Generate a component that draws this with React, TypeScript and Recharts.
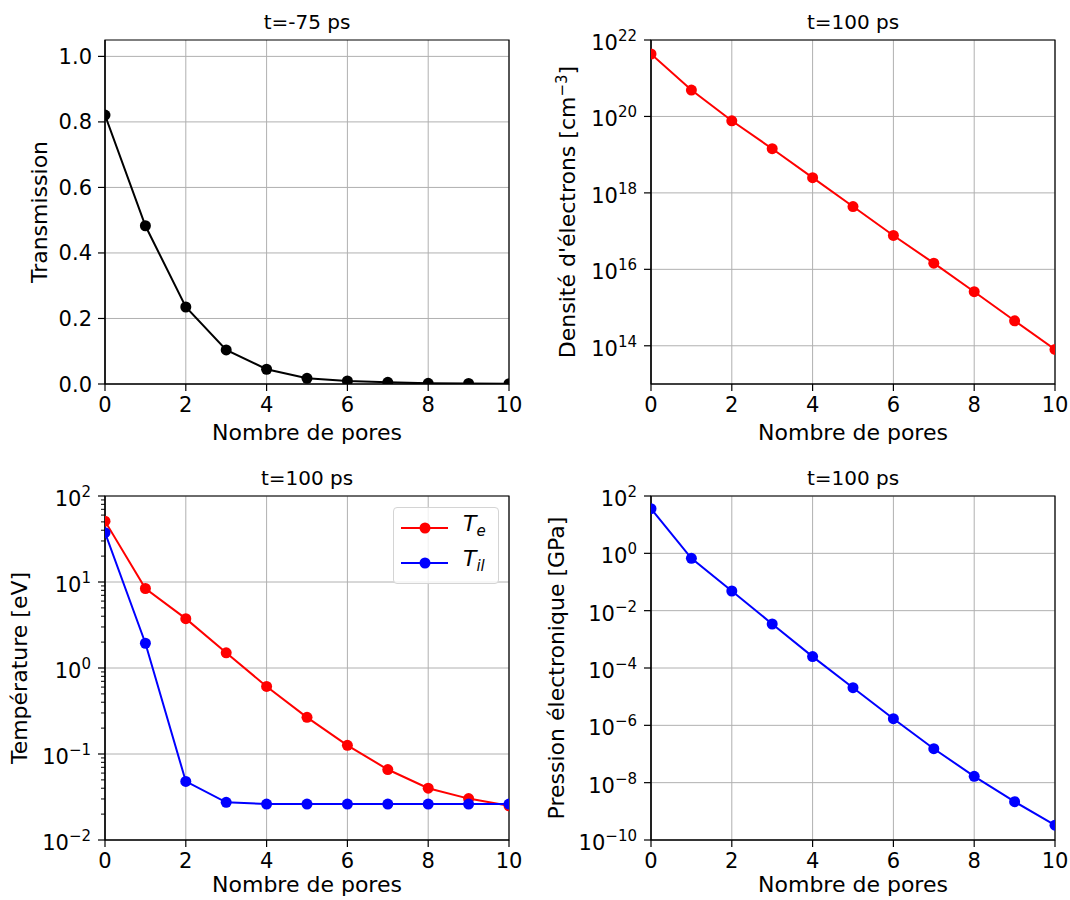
import React from 'react';
import {
  LineChart,
  Line,
  XAxis,
  YAxis,
  CartesianGrid,
  ReferenceArea,
  Legend,
  Customized,
} from 'recharts';

// values
const pores = [0, 1, 2, 3, 4, 5, 6, 7, 8, 9, 10];
const transmission = [0.821, 0.483, 0.235, 0.104, 0.045, 0.0174, 0.0092, 0.005, 0.002, 0.0015, 0.001];
const densite = [4.3e21, 4.9e20, 7.7e19, 1.43e19, 2.5e18, 4.4e17, 7.7e16, 1.45e16, 2.6e15, 4.5e14, 8.0e13];
const tempE = [51, 8.4, 3.75, 1.5, 0.61, 0.267, 0.126, 0.066, 0.04, 0.0303, 0.025];
const tempIl = [37.5, 1.94, 0.048, 0.0274, 0.0262, 0.0262, 0.0262, 0.0262, 0.0262, 0.0262, 0.0262];
const pression = [36, 0.67, 0.0485, 0.00343, 2.5e-4, 2.06e-5, 1.7e-6, 1.53e-7, 1.66e-8, 2.17e-9, 3.3e-10];

const xTicks = [0, 2, 4, 6, 8, 10];
const transTicks = [0, 0.2, 0.4, 0.6, 0.8, 1.0];
const densTicks = [1e14, 1e16, 1e18, 1e20, 1e22];
const tempTicks = [1e-2, 1e-1, 1, 10, 100];
const presTicks = [1e-10, 1e-8, 1e-6, 1e-4, 1e-2, 1, 100];
const minorMult = [2, 3, 4, 5, 6, 7, 8, 9];
const tempMinorTicks = tempTicks.slice(0, -1).flatMap((d) => minorMult.map((m) => m * d));

const rows = pores.map((p, i) => ({
  pores: p,
  transmission: transmission[i],
  densite: densite[i],
  tempE: tempE[i],
  tempIl: tempIl[i],
  pression: pression[i],
}));

const FONT = '"DejaVu Sans", sans-serif';
const W = 535;
const H = 450;
const PW = 404;
const PH = 344;
const XH = 60;
const AXIS = 1.2;
const TICK_FS = 21;

const XTick = (props: any) => {
  const { x, y, payload } = props;
  return (
    <g>
      <line x1={x} x2={x} y1={y} y2={y + 7} stroke="#000" strokeWidth={AXIS} />
      <text x={x} y={y + 28} textAnchor="middle" fontSize={TICK_FS} fill="#000" fontFamily={FONT}>
        {payload.value}
      </text>
    </g>
  );
};

const LinTick = (props: any) => {
  const { x, y, payload } = props;
  return (
    <g>
      <line x1={x - 7} x2={x} y1={y} y2={y} stroke="#000" strokeWidth={AXIS} />
      <text x={x - 13} y={y + 7.5} textAnchor="end" fontSize={TICK_FS} fill="#000" fontFamily={FONT}>
        {Number(payload.value).toFixed(1)}
      </text>
    </g>
  );
};

const LogTick = (props: any) => {
  const { x, y, payload } = props;
  const lg = Math.log10(payload.value);
  const exp = Math.round(lg);
  if (Math.abs(lg - exp) > 1e-6) {
    return <line x1={x - 4} x2={x} y1={y} y2={y} stroke="#000" strokeWidth={1} />;
  }
  const expText = exp < 0 ? '\u2212' + Math.abs(exp) : String(exp);
  return (
    <g>
      <line x1={x - 7} x2={x} y1={y} y2={y} stroke="#000" strokeWidth={AXIS} />
      <text x={x - 14} y={y + 10} textAnchor="end" fontSize={TICK_FS} fill="#000" fontFamily={FONT}>
        <tspan>10</tspan>
        <tspan dy={-9} fontSize={15}>{expText}</tspan>
      </text>
    </g>
  );
};

const Texts = ({ px, py, title, yLabel, yLabelX, xLabelDy }: any) => (
  <g fontFamily={FONT} fill="#000">
    <text x={px + PW / 2} y={py - 11} textAnchor="middle" fontSize={20}>
      {title}
    </text>
    <text x={px + PW / 2} y={py + PH + xLabelDy} textAnchor="middle" fontSize={22}>
      Nombre de pores
    </text>
    <text
      transform={`translate(${yLabelX},${py + PH / 2}) rotate(-90)`}
      textAnchor="middle"
      fontSize={22}
    >
      {yLabel}
    </text>
  </g>
);

const legendNames: Record<string, string> = { Te: 'e', Til: 'il' };

const renderLegend = (props: any) => {
  const { payload } = props;
  return (
    <div
      style={{
        boxSizing: 'border-box',
        width: 106,
        height: 77,
        border: '1px solid #d4d4d4',
        borderRadius: 4,
        background: 'rgba(255,255,255,0.8)',
        position: 'relative',
        fontFamily: FONT,
      }}
    >
      {(payload || []).map((entry: any, i: number) => (
        <div
          key={entry.value}
          style={{ position: 'absolute', left: 0, top: 4 + i * 35, height: 32, display: 'flex', alignItems: 'center' }}
        >
          <svg width={60} height={32}>
            <line x1={7} x2={54} y1={16} y2={16} stroke={entry.color} strokeWidth={2} />
            <circle cx={31} cy={16} r={5.5} fill={entry.color} />
          </svg>
          <span style={{ marginLeft: 9, fontStyle: 'italic', fontSize: 22, lineHeight: '22px' }}>
            T<sub style={{ fontSize: 15 }}>{legendNames[entry.value]}</sub>
          </span>
        </div>
      ))}
    </div>
  );
};

type Series = { key: string; name: string; color: string };

interface PanelProps {
  left: number;
  top: number;
  yWidth: number;
  mTop: number;
  title: string;
  yLabel: React.ReactNode;
  yLabelX: number;
  xLabelDy: number;
  yScale: 'linear' | 'log';
  yDomain: [number, number];
  yTicks: number[];
  yGrid: number[];
  series: Series[];
  legend?: boolean;
}

function Panel({ left, top, yWidth, mTop, title, yLabel, yLabelX, xLabelDy, yScale, yDomain, yTicks, yGrid, series, legend }: PanelProps) {
  const mRight = W - yWidth - PW;
  const mBottom = H - mTop - PH - XH;
  return (
    <div style={{ position: 'absolute', left, top, width: W, height: H }}>
      <LineChart width={W} height={H} data={rows} margin={{ top: mTop, right: mRight, bottom: mBottom, left: 0 }}>
        <CartesianGrid stroke="#b0b0b0" strokeWidth={1} horizontalValues={yGrid} verticalValues={xTicks} />
        <XAxis
          dataKey="pores"
          type="number"
          domain={[0, 10]}
          ticks={xTicks}
          interval={0}
          height={XH}
          allowDataOverflow
          tickSize={0}
          tickMargin={0}
          tickLine={false}
          axisLine={{ stroke: '#000', strokeWidth: AXIS }}
          tick={(p: any) => <XTick {...p} />}
        />
        <YAxis
          type="number"
          scale={yScale}
          domain={yDomain}
          ticks={yTicks}
          interval={0}
          width={yWidth}
          allowDataOverflow
          tickSize={0}
          tickMargin={0}
          tickLine={false}
          axisLine={{ stroke: '#000', strokeWidth: AXIS }}
          tick={(p: any) => (yScale === 'log' ? <LogTick {...p} /> : <LinTick {...p} />)}
        />
        <ReferenceArea
          x1={0}
          x2={10}
          y1={yDomain[0]}
          y2={yDomain[1]}
          fill="none"
          fillOpacity={0}
          stroke="#000"
          strokeWidth={AXIS}
          ifOverflow="visible"
        />
        {series.map((s) => (
          <Line
            key={s.key}
            dataKey={s.key}
            name={s.name}
            type="linear"
            stroke={s.color}
            strokeWidth={2}
            dot={{ r: 5.5, fill: s.color, stroke: s.color, strokeWidth: 0 }}
            activeDot={false}
            isAnimationActive={false}
          />
        ))}
        {legend && (
          <Legend
            layout="horizontal"
            verticalAlign="middle"
            align="center"
            wrapperStyle={{ left: 393, top: 57, width: 106, height: 77 }}
            content={renderLegend}
          />
        )}
        <Customized
          component={
            <Texts px={yWidth} py={mTop} title={title} yLabel={yLabel} yLabelX={yLabelX} xLabelDy={xLabelDy} />
          }
        />
      </LineChart>
    </div>
  );
}

export default function App() {
  return (
    <div style={{ position: 'absolute', left: 0, top: 0, width: 1070, height: 900, background: '#fff', fontFamily: FONT }}>
      <Panel
        left={0}
        top={0}
        yWidth={105}
        mTop={40}
        title="t=-75 ps"
        yLabel="Transmission"
        yLabelX={47}
        xLabelDy={56}
        yScale="linear"
        yDomain={[0, 1.05]}
        yTicks={transTicks}
        yGrid={transTicks}
        series={[{ key: 'transmission', name: 'Transmission', color: '#000000' }]}
      />
      <Panel
        left={535}
        top={0}
        yWidth={116}
        mTop={40}
        title="t=100 ps"
        yLabel={
          <>
            <tspan>Densité d'électrons [cm</tspan>
            <tspan dy={-8} fontSize={15}>{'\u22123'}</tspan>
            <tspan dy={8}>]</tspan>
          </>
        }
        yLabelX={40}
        xLabelDy={56}
        yScale="log"
        yDomain={[1e13, 1e22]}
        yTicks={densTicks}
        yGrid={densTicks}
        series={[{ key: 'densite', name: 'Densité', color: '#ff0000' }]}
      />
      <Panel
        left={0}
        top={450}
        yWidth={105}
        mTop={46}
        title="t=100 ps"
        yLabel="Température [eV]"
        yLabelX={27}
        xLabelDy={52}
        yScale="log"
        yDomain={[1e-2, 100]}
        yTicks={[...tempTicks, ...tempMinorTicks]}
        yGrid={tempTicks}
        series={[
          { key: 'tempE', name: 'Te', color: '#ff0000' },
          { key: 'tempIl', name: 'Til', color: '#0000ff' },
        ]}
        legend
      />
      <Panel
        left={535}
        top={450}
        yWidth={116}
        mTop={46}
        title="t=100 ps"
        yLabel="Pression électronique [GPa]"
        yLabelX={29}
        xLabelDy={52}
        yScale="log"
        yDomain={[1e-10, 100]}
        yTicks={presTicks}
        yGrid={presTicks}
        series={[{ key: 'pression', name: 'Pression', color: '#0000ff' }]}
      />
    </div>
  );
}
